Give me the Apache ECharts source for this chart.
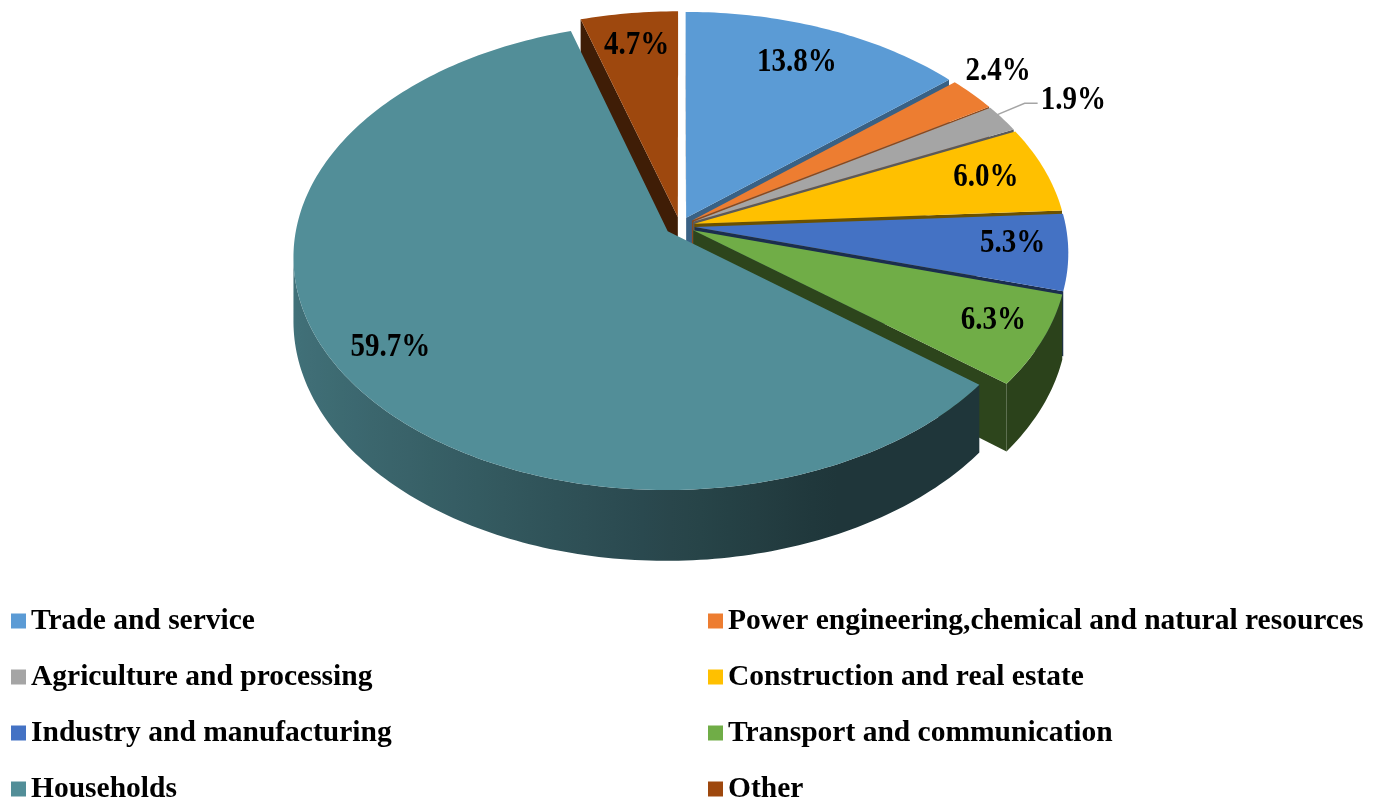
<!DOCTYPE html>
<html>
<head>
<meta charset="utf-8">
</head>
<body style="margin: 0; background: #fff">
<div id="container" style="width: 1381px; height: 800px"></div>
<script src="https://cdn.jsdelivr.net/npm/echarts@6/dist/echarts.min.js"></script>
<script>
// sector shares, %, clockwise from 12 o'clock
var categories = [
    'Trade and service',
    'Power engineering,chemical and natural resources',
    'Agriculture and processing',
    'Construction and real estate',
    'Industry and manufacturing',
    'Transport and communication',
    'Households',
    'Other'
];
var shares = [13.8, 2.4, 1.9, 6.0, 5.3, 6.3, 59.7, 4.7];
var colors = ['#5B9BD5', '#ED7D31', '#A5A5A5', '#FFC000', '#4472C4', '#70AD47', '#528E98', '#9E480E'];

// label placement: radius on the disc + pixel nudge
var labelPlace = [
    {r: 0.8, dx: -4, dy: -2},
    {r: 1.12, dx: -6, dy: -8},
    {r: 0.97, dx: 2, dy: -6, leader: true},
    {r: 0.85, dx: -7, dy: 0},
    {r: 0.85, dx: 1, dy: -5},
    {r: 0.85, dx: 6, dy: -3},
    {r: 0.85, dx: -1, dy: 0},
    {r: 0.85, dx: 1, dy: 4}
];

// 3d look of the pie (pixels), perspective tilt and explosion
var PIE = {cx: 680, cy: 226, rx: 371, ry: 229.7, persp: 0.108, depth: 63, explode: 0.04, cutL: -0.108, cutR: -0.26};
var LABEL_FONT = 'bold 29px "Liberation Serif"';

var total = shares.reduce(function (a, b) { return a + b; }, 0);
var starts = [];
var acc = 0;
shares.forEach(function (v) { starts.push(acc); acc += v; });

function project(u, v, h) {
    var d = 1 + PIE.persp * v;
    return [PIE.cx + PIE.rx * u / d, PIE.cy - PIE.ry * v / d + (h || 0) / d];
}

function shade(hex, s) {
    var n = parseInt(hex.slice(1), 16);
    var r = Math.round(((n >> 16) & 255) * s);
    var g = Math.round(((n >> 8) & 255) * s);
    var b = Math.round((n & 255) * s);
    return 'rgb(' + r + ',' + g + ',' + b + ')';
}

var camV = -1 / PIE.persp;
function faces(pu, pv, nu, nv) {
    return (0 - pu) * nu + (camV - pv) * nv > 0;
}

function renderItem(params, api) {
    var i = params.dataIndex;
    var val = api.value(0);
    var color = colors[i];
    var a0 = starts[i] / total * Math.PI * 2;
    var a1 = a0 + val / total * Math.PI * 2;
    var m = (a0 + a1) / 2;
    var ou = PIE.explode * Math.sin(m), ov = PIE.explode * Math.cos(m);
    var D = PIE.depth;
    function disk(t, r) { return [ou + r * Math.sin(t), ov + r * Math.cos(t)]; }

    var n = Math.max(2, Math.ceil((a1 - a0) / (Math.PI / 180)));
    var arc = [];
    for (var k = 0; k <= n; k++) arc.push(a0 + (a1 - a0) * k / n);

    var children = [];

    // radial side walls
    [[a0, -1], [a1, 1]].forEach(function (e) {
        var t = e[0], sgn = e[1];
        var nu = sgn * Math.cos(t), nv = -sgn * Math.sin(t);
        var mid = disk(t, 0.5);
        if (!faces(mid[0], mid[1], nu, nv)) return;
        var o = disk(t, 1);
        children.push({
            type: 'polygon', z2: 1,
            shape: {points: [project(ou, ov, 0), project(o[0], o[1], 0), project(o[0], o[1], D), project(ou, ov, D)]},
            style: {fill: shade(color, 0.4 + 0.35 * Math.max(0, nu))}
        });
    });

    // outer wall, only the front part
    var run = [];
    function flush() {
        if (run.length >= 2) {
            var upper = run.map(function (t) { var p = disk(t, 1); return project(p[0], p[1], 0); });
            var lower = run.map(function (t) { var p = disk(t, 1); return project(p[0], p[1], D); }).reverse();
            var stops = run.map(function (t, k) {
                var s = Math.min(0.8, Math.max(0.38, 0.5 - 0.3 * Math.sin(t)));
                return {x: upper[k][0], c: shade(color, s)};
            });
            stops.sort(function (p, q) { return p.x - q.x; });
            var xmin = stops[0].x, xmax = stops[stops.length - 1].x;
            var span = Math.max(1, xmax - xmin);
            var colorStops = stops.filter(function (s, k) { return k % 4 === 0 || k === stops.length - 1; })
                .map(function (s) { return {offset: (s.x - xmin) / span, color: s.c}; });
            children.push({
                type: 'polygon', z2: 2,
                shape: {points: upper.concat(lower)},
                style: {fill: {type: 'linear', x: xmin, y: 0, x2: xmin + span, y2: 0, global: true, colorStops: colorStops}}
            });
        }
        run = [];
    }
    arc.forEach(function (t) {
        var cut = Math.sin(t) > 0 ? PIE.cutR : PIE.cutL;
        if (Math.cos(t) < cut) run.push(t); else flush();
    });
    flush();

    // top face
    var top = [project(ou, ov, 0)];
    arc.forEach(function (t) { var p = disk(t, 1); top.push(project(p[0], p[1], 0)); });
    children.push({type: 'polygon', z2: 10, shape: {points: top}, style: {fill: color}});

    // data label
    var lp = labelPlace[i];
    var q = disk(m, lp.r);
    var anchor = project(q[0], q[1], 0);
    var ax = anchor[0] + lp.dx, ay = anchor[1] + lp.dy;
    var text = val.toFixed(1) + '%';
    if (lp.leader) {
        children.push({
            type: 'polyline', z2: 20,
            shape: {points: [[ax, ay], [ax + 29, ay - 12], [ax + 42, ay - 12]]},
            style: {stroke: '#A5A5A5', lineWidth: 1.5, fill: null}
        });
        children.push({
            type: 'text', z2: 21, x: ax + 45, y: ay - 15, scaleY: 1.14,
            style: {x: 0, y: 0, text: text, font: LABEL_FONT, fill: '#000', align: 'left', verticalAlign: 'middle'}
        });
    } else {
        children.push({
            type: 'text', z2: 21, x: ax, y: ay, scaleY: 1.14,
            style: {x: 0, y: 0, text: text, font: LABEL_FONT, fill: '#000', align: 'center', verticalAlign: 'middle'}
        });
    }

    return {type: 'group', children: children};
}

var dom = document.getElementById('container');
var myChart = echarts.init(dom);

var legendText = {fontFamily: 'Liberation Serif', fontWeight: 'bold', fontSize: 29.5, lineHeight: 30, color: '#000'};
var leftNames = categories.filter(function (c, k) { return k % 2 === 0; });
var rightNames = categories.filter(function (c, k) { return k % 2 === 1; });

var option = {
    animation: false,
    color: colors,
    legend: [{
        data: leftNames, orient: 'vertical', left: 11, top: 606, height: 215, padding: 0,
        icon: 'rect', itemWidth: 15, itemHeight: 15, itemGap: 26,
        selectedMode: false, textStyle: legendText
    }, {
        data: rightNames, orient: 'vertical', left: 708, top: 606, height: 215, padding: 0,
        icon: 'rect', itemWidth: 15, itemHeight: 15, itemGap: 26,
        selectedMode: false, textStyle: legendText
    }],
    series: [{
        // only feeds the legend
        type: 'pie',
        name: 'legend',
        center: [-50, -50],
        radius: [0, 0],
        silent: true,
        label: {show: false},
        labelLine: {show: false},
        data: categories.map(function (c, k) { return {name: c, value: shares[k]}; })
    }, {
        type: 'custom',
        name: 'pie3d',
        coordinateSystem: 'none',
        renderItem: renderItem,
        silent: true,
        data: shares
    }]
};
myChart.setOption(option);
</script>
</body>
</html>
